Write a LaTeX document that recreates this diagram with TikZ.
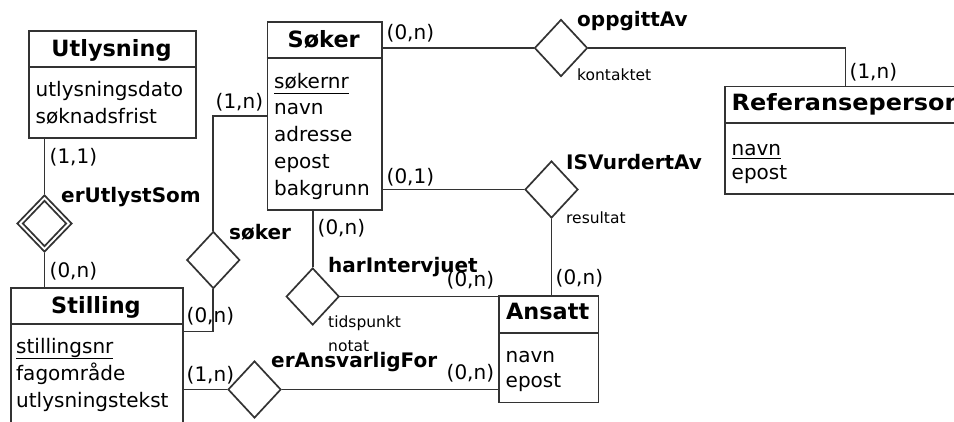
\documentclass[tikz,border=0pt]{standalone}
\usepackage{fontspec}
\setmainfont{DejaVu Sans}
\usetikzlibrary{shapes.geometric}

\definecolor{linec}{gray}{0.2}

% key attribute: text with a rule drawn #1 pt below the baseline
\newcommand\keyattr[2]{\setbox0\hbox{#2}\rlap{\rule[-#1pt]{\wd0}{1.4pt}}\box0}

\tikzset{
  line/.style={draw=linec, line width=1.7pt},
  ent/.style={draw=linec, line width=1.7pt, fill=white, rectangle, inner sep=0pt, anchor=north west},
  rel/.style={draw=linec, line width=1.7pt, fill=white, diamond, inner sep=0pt,
              minimum width=53pt, minimum height=57pt},
  etitle/.style={font=\bfseries\fontsize{22.4}{26}\selectfont, anchor=base, inner sep=0pt},
  attr/.style={font=\fontsize{20}{24}\selectfont, anchor=base west, inner sep=0pt},
  card/.style={font=\fontsize{20}{24}\selectfont, anchor=west, inner sep=0pt},
  rname/.style={font=\bfseries\fontsize{20}{24}\selectfont, anchor=west, inner sep=0pt},
  note/.style={font=\fontsize{15.5}{18}\selectfont, anchor=west, inner sep=0pt},
}

\begin{document}
\begin{tikzpicture}[x=1pt, y=-1pt]
\useasboundingbox (0,0) rectangle (954,421);
\fill[white] (0,0) rectangle (954,421);
\clip (0,0) rectangle (954,421);

% ---------- entities ----------
% Utlysning
\node[ent, minimum width=167pt, minimum height=107pt] (utl) at (28,30) {};
\draw[line] (28,67) -- (195,67);
\node[etitle] (utl-t) at (111.5,56) {Utlysning};
\node[attr] (utl-a1) at (35.5,96.7) {utlysningsdato};
\node[attr] (utl-a2) at (35.5,123.3) {søknadsfrist};

% Søker
\node[ent, minimum width=114.5pt, minimum height=188pt] (sok) at (266.5,21) {};
\draw[line] (266.5,58) -- (381,58);
\node[etitle] (sok-t) at (323.7,47) {Søker};
\node[attr] (sok-a1) at (274,88) {\keyattr{6.2}{søkernr}};
\node[attr] (sok-a2) at (274,114.8) {navn};
\node[attr] (sok-a3) at (274,141.6) {adresse};
\node[attr] (sok-a4) at (274,168.4) {epost};
\node[attr] (sok-a5) at (274,195.2) {bakgrunn};

% Stilling
\node[ent, minimum width=172pt, minimum height=160pt] (stl) at (10,287) {};
\draw[line] (10,324) -- (182,324);
\node[etitle] (stl-t) at (96,313) {Stilling};
\node[attr] (stl-a1) at (16,353) {\keyattr{6.2}{stillingsnr}};
\node[attr] (stl-a2) at (16,380) {fagområde};
\node[attr] (stl-a3) at (16,407) {utlysningstekst};

% Ansatt
\node[ent, minimum width=99.5pt, minimum height=106.5pt] (ans) at (498,295) {};
\draw[line] (498,333) -- (597.5,333);
\node[etitle] (ans-t) at (547.7,319.5) {Ansatt};
\node[attr] (ans-a1) at (505.5,362) {navn};
\node[attr] (ans-a2) at (505.5,387) {epost};

% Referanseperson (runs past the right edge)
\node[ent, minimum width=260pt, minimum height=107.5pt] (ref) at (724,85.5) {};
\draw[line] (724,123) -- (984,123);
\node[etitle, anchor=base west] (ref-t) at (731.5,110) {\scalebox{1.07}[1]{Referanseperson}};
\node[attr] (ref-a1) at (731.5,155) {\keyattr{4.2}{navn}};
\node[attr] (ref-a2) at (731.5,179.5) {epost};

% ---------- relationships ----------
\node[rel, minimum width=55pt] (eut) at (44.5,223.5) {};
\node[draw=linec, line width=1.7pt, diamond, inner sep=0pt,
      minimum width=44pt, minimum height=46pt] (eut-in) at (44.5,223.5) {};
\node[rel] (opp) at (561,48) {};
\node[rel] (isv) at (551.5,189.5) {};
\node[rel] (skr) at (213.3,260) {};
\node[rel] (hiv) at (312.7,296.5) {};
\node[rel] (era) at (254.5,389.5) {};

% free ends of connectors
\coordinate (refTop) at (845.5,85.5);
\coordinate (sokL) at (266.5,116);
\coordinate (stlR) at (182,331.5);

% ---------- connectors ----------
\draw[line] (eut |- utl.south) -- (eut.north);
\draw[line] (eut.south) -- (eut |- stl.north);

\draw[line] (sok.east |- opp) -- (opp.west);
\draw[line] (opp.east) -| (refTop);

\draw[line] (sok.east |- isv) -- (isv.west);
\draw[line] (isv.south) -- (isv |- ans.north);

\draw[line] (sokL) -| (skr.north);
\draw[line] (skr.south) |- (stlR);

\draw[line] (hiv |- sok.south) -- (hiv.north);
\draw[line] (hiv.east) -- (hiv -| ans.west);

\draw[line] (stl.east |- era) -- (era.west);
\draw[line] (era.east) -- (era -| ans.west);

% ---------- labels ----------
\node[card] (c-utl) at (49.5,157) {(1,1)};
\node[rname] (n-eut) at (61,197) {erUtlystSom};
\node[card] (c-stl1) at (49.5,271) {(0,n)};

\node[card] (c-sok1) at (215.5,102.5) {(1,n)};
\node[rname] (n-skr) at (229,232.5) {søker};
\node[card] (c-stl2) at (186.5,316) {(0,n)};

\node[card] (c-sok2) at (386.5,33) {(0,n)};
\node[rname] (n-opp) at (577,21) {oppgittAv};
\node[note] (r-opp) at (577,75) {kontaktet};
\node[card] (c-ref) at (849.5,72) {(1,n)};

\node[card] (c-sok3) at (386.5,177) {(0,1)};
\node[rname] (n-isv) at (566,162) {ISVurdertAv};
\node[note] (r-isv) at (566,217.5) {resultat};
\node[card] (c-ans1) at (555.5,278.7) {(0,n)};

\node[card] (c-sok4) at (317.5,228) {(0,n)};
\node[rname] (n-hiv) at (328,267.5) {harIntervjuet};
\node[card] (c-ans2) at (446.5,280) {(0,n)};
\node[note] (r-hiv1) at (328,323.5) {tidspunkt};
\node[note] (r-hiv2) at (328,346) {notat};

\node[card] (c-stl3) at (186.5,375) {(1,n)};
\node[rname] (n-era) at (271,361.7) {erAnsvarligFor};
\node[card] (c-ans3) at (446.5,373) {(0,n)};
\end{tikzpicture}
\end{document}
